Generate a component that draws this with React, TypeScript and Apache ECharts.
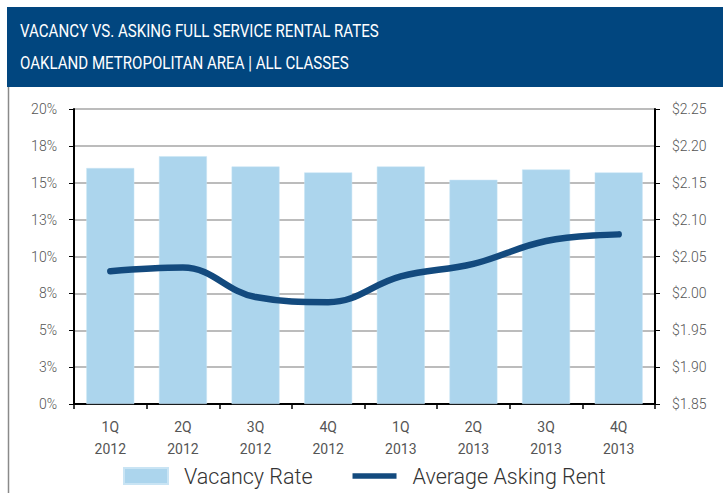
import React, { useEffect, useRef } from "react";
import * as echarts from "echarts";

const titleLines = ["VACANCY VS. ASKING FULL SERVICE RENTAL RATES", "OAKLAND METROPOLITAN AREA | ALL CLASSES"];
const categories = ["1Q\n2012", "2Q\n2012", "3Q\n2012", "4Q\n2012", "1Q\n2013", "2Q\n2013", "3Q\n2013", "4Q\n2013"];
const vacancyRate = [16.0, 16.8, 16.1, 15.7, 16.1, 15.2, 15.9, 15.7];
const askingRent = [2.03, 2.035, 1.995, 1.988, 2.023, 2.04, 2.071, 2.08];
const seriesNames = ["Vacancy Rate", "Average Asking Rent"];

export default function App() {
  const ref = useRef<HTMLDivElement>(null);
  useEffect(() => {
    const chart = echarts.init(ref.current!, null, { renderer: "svg" });
    chart.setOption({
      animation: false,
      backgroundColor: "#ffffff",
      graphic: [
        { type: "rect", left: 7, top: 7, shape: { width: 716, height: 80 }, style: { fill: "#01467f" }, z: 0 },
        { type: "line", shape: { x1: 8.5, y1: 87, x2: 8.5, y2: 493 }, style: { stroke: "#8a8a8a", lineWidth: 1.5 } },
        {
          type: "text", x: 20, y: 21, scaleX: 0.815,
          style: { text: titleLines[0], fill: "#ffffff", fontSize: 18.5, fontFamily: "Roboto", fontWeight: 400 },
        },
        {
          type: "text", x: 20, y: 53, scaleX: 0.815,
          style: { text: titleLines[1], fill: "#ffffff", fontSize: 18.5, fontFamily: "Roboto", fontWeight: 400 },
        },
      ],
      grid: { left: 74, right: 68, top: 109, bottom: 89, containLabel: false },
      legend: {
        left: 123,
        top: 465,
        padding: 0,
        itemGap: 40,
        itemWidth: 44,
        itemHeight: 16,
        textStyle: { fontSize: 21.5, color: "#333", fontFamily: "Roboto", fontWeight: 300, padding: [0, 0, 0, 11] },
        data: [
          { name: seriesNames[0], icon: "rect" },
          { name: seriesNames[1], icon: "path://M0,0 L41,0 L41,5 L0,5 Z", itemStyle: { color: "#134a7e" } },
        ],
      },
      xAxis: {
        type: "category",
        data: categories,
        axisLine: { lineStyle: { color: "#000", width: 2 } },
        axisTick: { show: true, length: 5, lineStyle: { color: "#000", width: 1.5 } },
        axisLabel: { fontSize: 14, lineHeight: 22, color: "#555", margin: 12, fontFamily: "Roboto", fontWeight: 400 },
      },
      yAxis: [
        {
          type: "value",
          min: 0,
          max: 20,
          interval: 2.5,
          axisLine: { show: true, lineStyle: { color: "#000", width: 2 } },
          axisTick: { show: true, length: 5, lineStyle: { color: "#000", width: 1 } },
          splitLine: { show: true, lineStyle: { color: "#a6a6a6", width: 1.5 } },
          axisLabel: {
            fontSize: 14,
            color: "#555",
            margin: 17,
            fontFamily: "Roboto",
            fontWeight: 300,
            formatter: (v: number) => Math.round(v) + "%",
          },
        },
        {
          type: "value",
          min: 1.85,
          max: 2.25,
          interval: 0.05,
          axisLine: { show: true, lineStyle: { color: "#000", width: 2 } },
          axisTick: { show: true, length: 5, lineStyle: { color: "#000", width: 1 } },
          splitLine: { show: false },
          axisLabel: {
            fontSize: 14,
            color: "#555",
            margin: 17,
            fontFamily: "Roboto",
            fontWeight: 300,
            formatter: (v: number) => "$" + v.toFixed(2),
          },
        },
      ],
      series: [
        {
          name: seriesNames[0],
          type: "bar",
          data: vacancyRate,
          barCategoryGap: "34%",
          itemStyle: { color: "#acd5ed", borderColor: "#c9e4f4", borderWidth: 0.5 },
          z: 2,
        },
        {
          name: seriesNames[1],
          type: "line",
          yAxisIndex: 1,
          data: askingRent,
          smooth: 0.4,
          symbol: "none",
          showSymbol: false,
          lineStyle: { color: "#134a7e", width: 6.5, cap: "round" },
          itemStyle: { color: "#134a7e" },
          z: 3,
        },
      ],
    });
    return () => chart.dispose();
  }, []);
  return <div ref={ref} style={{ position: "fixed", left: 0, top: 0, width: 723, height: 493 }} />;
}
